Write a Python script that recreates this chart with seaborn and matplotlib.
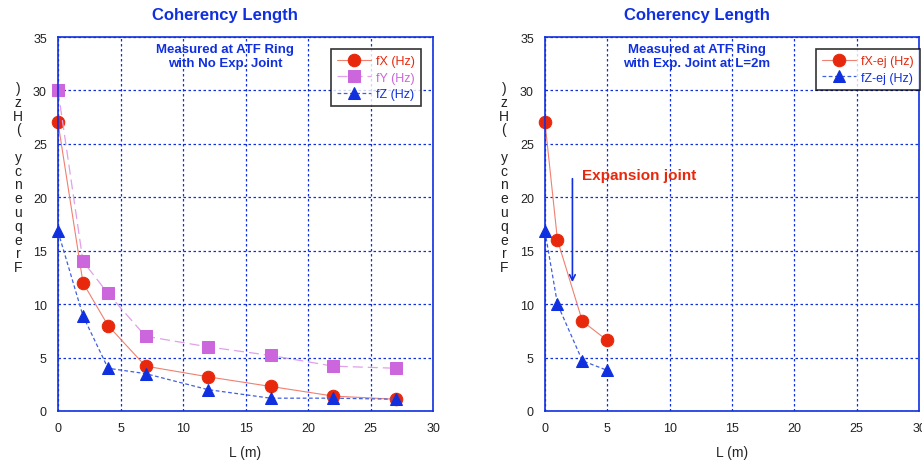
import numpy as np
import pandas as pd
import matplotlib
matplotlib.use("Agg")
import matplotlib.pyplot as plt
import seaborn as sns

sns.set_style("white")
plt.rcParams['font.family'] = ['Liberation Sans', 'DejaVu Sans']

# ==========================================================
# Data
# ==========================================================

L_noej = [0, 2, 4, 7, 12, 17, 22, 27]
fx = [27, 12, 8, 4.2, 3.2, 2.3, 1.4, 1.1]
fy = [30, 14, 11, 7, 6, 5.2, 4.2, 4]
fz = [16.8, 8.9, 4, 3.5, 2, 1.2, 1.2, 1.1]

L_ej = [0, 1, 3, 5]
fx_ej = [27, 16, 8.4, 6.6]
fz_ej = [16.8, 10, 4.7, 3.8]

RED = '#e8280c'
VIOLET = '#cc66dd'
BLUE = '#1030e0'

fig = plt.figure(figsize=(9.22, 4.64), dpi=100)
ax1 = fig.add_axes([58/922, 1-412/464, 375/922, 374/464])
ax2 = fig.add_axes([545/922, 1-412/464, 374/922, 374/464])


def style_axes(ax, title, note, tx):
    ax.set_xlim(0, 30)
    ax.set_ylim(0, 35)
    ax.set_xticks(range(0, 31, 5))
    ax.set_yticks(range(0, 36, 5))
    ax.grid(True, color=BLUE, linestyle=(0, (2, 2)), linewidth=0.9)
    for s in ax.spines.values():
        s.set_color(BLUE)
        s.set_linewidth(1.2)
    ax.tick_params(labelsize=9, colors='#222222', length=0, pad=8)
    ax.set_xlabel('L (m)', fontsize=10, labelpad=8)
    ax.set_ylabel('')
    ax.text(tx, 1.06, title, transform=ax.transAxes, ha='center', va='center',
            color=BLUE, fontsize=12, fontweight='bold')
    ax.text(tx, 0.985, note, transform=ax.transAxes, ha='center', va='top',
            color=BLUE, fontsize=9.5, fontweight='bold', linespacing=1.25)


def color_legend(ax, anchor, loc, colors):
    leg = ax.legend(loc=loc, bbox_to_anchor=anchor, fontsize=9,
                    frameon=True, fancybox=False, edgecolor='black',
                    handlelength=2.7, handletextpad=0.4, borderpad=0.5,
                    labelspacing=0.35, borderaxespad=0)
    leg.get_frame().set_linewidth(1.2)
    for t, c in zip(leg.get_texts(), colors):
        t.set_color(c)


# ==========================================================
# Left chart: no expansion joint
# ==========================================================

sns.lineplot(x=L_noej, y=fx, ax=ax1, color='#f08070', marker='o', markersize=9,
             markerfacecolor=RED, markeredgecolor=RED, linewidth=0.8,
             label='fX (Hz)', clip_on=False)
sns.lineplot(x=L_noej, y=fy, ax=ax1, color='#e0a0ea', marker='s', markersize=9,
             markerfacecolor=VIOLET, markeredgecolor=VIOLET, linewidth=0.9,
             dashes=(8, 4), label='fY (Hz)', clip_on=False)
sns.lineplot(x=L_noej, y=fz, ax=ax1, color='#4060e0', marker='^', markersize=8.5,
             markerfacecolor=BLUE, markeredgecolor=BLUE, linewidth=0.9,
             dashes=(3, 2), label='fZ (Hz)', clip_on=False)

style_axes(ax1, 'Coherency Length', 'Measured at ATF Ring\nwith No Exp. Joint', 0.445)
color_legend(ax1, (0.968, 0.968), 'upper right', [RED, VIOLET, BLUE])

# ==========================================================
# Right chart: expansion joint at L=2m
# ==========================================================

sns.lineplot(x=L_ej, y=fx_ej, ax=ax2, color='#f08070', marker='o', markersize=9,
             markerfacecolor=RED, markeredgecolor=RED, linewidth=0.8,
             label='fX-ej (Hz)', clip_on=False)
sns.lineplot(x=L_ej, y=fz_ej, ax=ax2, color='#4060e0', marker='^', markersize=8.5,
             markerfacecolor=BLUE, markeredgecolor=BLUE, linewidth=0.9,
             dashes=(3, 2), label='fZ-ej (Hz)', clip_on=False)

style_axes(ax2, 'Coherency Length', 'Measured at ATF Ring\nwith Exp. Joint at L=2m', 0.405)
color_legend(ax2, (0.725, 0.968), 'upper left', [RED, BLUE])

ax2.annotate('', xy=(2.2, 11.8), xytext=(2.2, 22),
             arrowprops=dict(arrowstyle='->', color=BLUE, lw=1.2))
ax2.text(3.0, 22.1, 'Expansion joint', color=RED, fontsize=11, fontweight='bold',
         va='center', ha='left')

# Stacked y labels
ylab = '\n'.join(reversed('Frequency (Hz)'))
for xpix in (18, 504):
    fig.text(xpix/922, 1-82/464, ylab, ha='center', va='top', fontsize=10,
             linespacing=0.98, color='#222222')

fig.savefig('out.png', dpi=100)
